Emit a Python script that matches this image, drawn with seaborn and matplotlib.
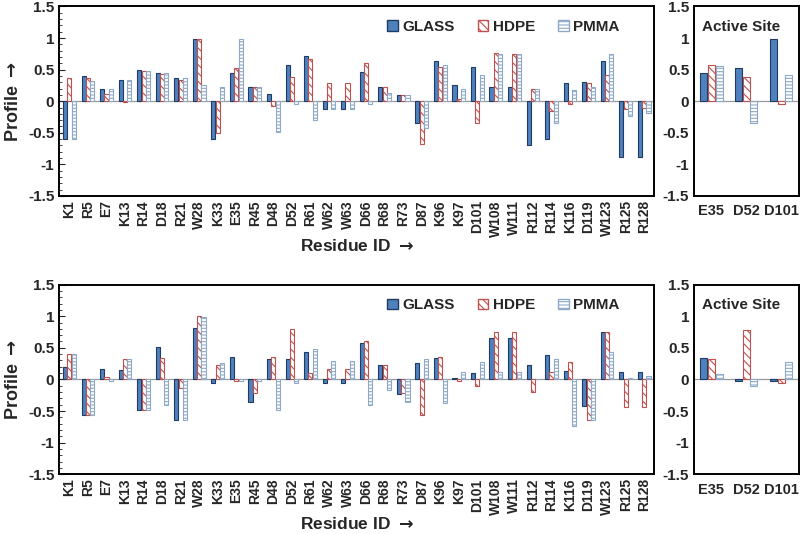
import numpy as np
import pandas as pd
import matplotlib
matplotlib.use("Agg")
import matplotlib.pyplot as plt
from matplotlib.patches import Patch
from matplotlib.ticker import MultipleLocator, FuncFormatter
import seaborn as sns

# Residuos e materiais
residues = ["K1", "R5", "E7", "K13", "R14", "D18", "R21", "W28", "K33", "E35", "R45",
            "D48", "D52", "R61", "W62", "W63", "D66", "R68", "R73", "D87", "K96", "K97",
            "D101", "W108", "W111", "R112", "R114", "K116", "D119", "W123", "R125", "R128"]
materials = ["GLASS", "HDPE", "PMMA"]
active = ["E35", "D52", "D101"]

# Painel de cima
top_glass = [-0.60, 0.40, 0.19, 0.33, 0.50, 0.45, 0.37, 0.98, -0.60, 0.44, 0.23,
             0.12, 0.57, 0.71, -0.13, -0.13, 0.46, 0.23, 0.10, -0.35, 0.63, 0.25,
             0.54, 0.23, 0.23, -0.70, -0.60, 0.28, 0.30, 0.63, -0.89, -0.89]
top_hdpe = [0.37, 0.37, 0.12, -0.01, 0.47, 0.43, 0.33, 0.99, -0.50, 0.53, 0.23,
            -0.07, 0.38, 0.67, 0.28, 0.28, 0.61, 0.22, 0.10, -0.68, 0.54, 0.03,
            -0.34, 0.76, 0.74, 0.195, -0.15, -0.05, 0.28, 0.42, -0.13, -0.11]
top_pmma = [-0.60, 0.32, 0.19, 0.33, 0.47, 0.44, 0.37, 0.25, 0.23, 0.98, 0.23,
            -0.49, -0.05, -0.29, -0.13, -0.13, -0.04, 0.13, 0.10, -0.42, 0.58, 0.20,
            0.42, 0.74, 0.74, 0.195, -0.34, 0.17, 0.22, 0.74, -0.23, -0.19]
top_act_glass = [0.44, 0.53, 0.99]
top_act_hdpe = [0.57, 0.39, -0.05]
top_act_pmma = [0.55, -0.34, 0.42]

# Painel de baixo
bot_glass = [0.20, -0.56, 0.17, 0.15, -0.49, 0.52, -0.64, 0.81, -0.05, 0.35, -0.35,
             0.32, 0.32, 0.43, -0.05, -0.05, 0.58, 0.23, -0.23, 0.26, 0.34, 0.03,
             0.10, 0.65, 0.65, 0.23, 0.39, 0.13, -0.42, 0.75, 0.12, 0.12]
bot_hdpe = [0.40, -0.56, 0.04, 0.32, -0.49, 0.34, -0.13, 1.00, 0.23, -0.03, -0.21,
            0.35, 0.79, 0.10, 0.17, 0.17, 0.61, 0.23, -0.21, -0.57, 0.35, -0.02,
            -0.10, 0.75, 0.75, -0.20, 0.12, 0.28, -0.64, 0.75, -0.44, -0.44]
bot_pmma = [0.40, -0.56, -0.03, 0.32, -0.49, -0.41, -0.64, 0.99, 0.26, -0.03, -0.02,
            -0.49, -0.05, 0.48, 0.29, 0.29, -0.41, -0.17, -0.36, 0.32, -0.38, 0.12,
            0.28, 0.11, 0.11, 0.0, 0.32, -0.74, -0.64, 0.43, 0.02, 0.06]
bot_act_glass = [0.34, -0.02, -0.02]
bot_act_hdpe = [0.32, 0.78, -0.05]
bot_act_pmma = [0.09, -0.10, 0.27]

sns.set_style("white")
plt.rcParams["font.family"] = ["Liberation Sans", "DejaVu Sans"]
plt.rcParams["font.weight"] = "bold"
plt.rcParams["hatch.linewidth"] = 0.8
plt.rcParams["mathtext.fontset"] = "dejavusans"

fill = {"GLASS": "#4F81BD", "HDPE": "white", "PMMA": "white"}
hatch_col = {"GLASS": "#1F3B63", "HDPE": "#C0504D", "PMMA": "#8EA9C8"}
hatches = {"GLASS": "", "HDPE": "\\\\\\\\", "PMMA": "-----"}


def long_df(cats, g, h, p):
    return pd.DataFrame({"residue": cats * 3,
                         "material": ["GLASS"] * len(cats) + ["HDPE"] * len(cats) + ["PMMA"] * len(cats),
                         "value": g + h + p})


def style_bars(ax):
    for cont, mat in zip(ax.containers, materials):
        for bar in cont:
            bar.set_facecolor(fill[mat])
            bar.set_hatch(hatches[mat])
            bar.set_edgecolor(hatch_col[mat])
            bar.set_linewidth(0.8)


def style_axis(ax, minor=True):
    ax.set_ylim(-1.5, 1.5)
    ax.yaxis.set_major_locator(MultipleLocator(0.5))
    if minor:
        ax.yaxis.set_minor_locator(MultipleLocator(0.1))
    ax.yaxis.set_major_formatter(FuncFormatter(lambda v, p: "%g" % v))
    ax.tick_params(axis="y", which="major", direction="in", length=4, labelsize=11, left=True)
    ax.tick_params(axis="y", which="minor", direction="in", length=2.5, left=True)
    ax.tick_params(axis="x", length=0, labelsize=10, labelrotation=90, pad=3)
    ax.axhline(0, color="#999999", lw=0.9, zorder=0)
    for s in ax.spines.values():
        s.set_color("black")
        s.set_linewidth(1.4)
    ax.set_xlabel("")
    ax.set_ylabel("")
    for t in ax.get_xticklabels() + ax.get_yticklabels():
        t.set_fontweight("bold")


fig = plt.figure(figsize=(8, 5.34), dpi=100)
rows = [
    (0.633, (top_glass, top_hdpe, top_pmma), (top_act_glass, top_act_hdpe, top_act_pmma)),
    (0.112, (bot_glass, bot_hdpe, bot_pmma), (bot_act_glass, bot_act_hdpe, bot_act_pmma)),
]

for bottom, main_vals, act_vals in rows:
    ax = fig.add_axes([0.074, bottom, 0.744, 0.355])
    sns.barplot(data=long_df(residues, *main_vals), x="residue", y="value", hue="material",
                hue_order=materials, ax=ax, width=0.7, gap=0.05, legend=False)
    style_bars(ax)
    style_axis(ax)
    ax.set_xlim(-0.55, len(residues) - 0.45)
    ax.set_ylabel(r"Profile $\rightarrow$", fontsize=13, fontweight="bold", labelpad=4)
    ax.set_xlabel(r"Residue ID $\rightarrow$", fontsize=12.5, fontweight="bold", labelpad=1)
    handles = [Patch(facecolor=fill[m], edgecolor=hatch_col[m], hatch=hatches[m], label=m) for m in materials]
    ax.legend(handles=handles, loc="upper right", bbox_to_anchor=(0.965, 1.0), ncol=3, frameon=False,
              handlelength=0.7, handleheight=0.7, handletextpad=0.3, columnspacing=1.5,
              prop={"weight": "bold", "size": 11})

    ax2 = fig.add_axes([0.8675, bottom, 0.131, 0.355])
    sns.barplot(data=long_df(active, *act_vals), x="residue", y="value", hue="material",
                hue_order=materials, ax=ax2, width=0.65, gap=0.08, legend=False)
    style_bars(ax2)
    style_axis(ax2, minor=False)
    ax2.tick_params(axis="x", labelrotation=0, labelsize=10.5, pad=6)
    ax2.tick_params(axis="y", length=0)
    ax2.set_xlim(-0.5, 2.5)
    ax2.text(0.08, 0.93, "Active Site", transform=ax2.transAxes, fontsize=11, fontweight="bold", va="top")

fig.savefig("out.png", dpi=100)
